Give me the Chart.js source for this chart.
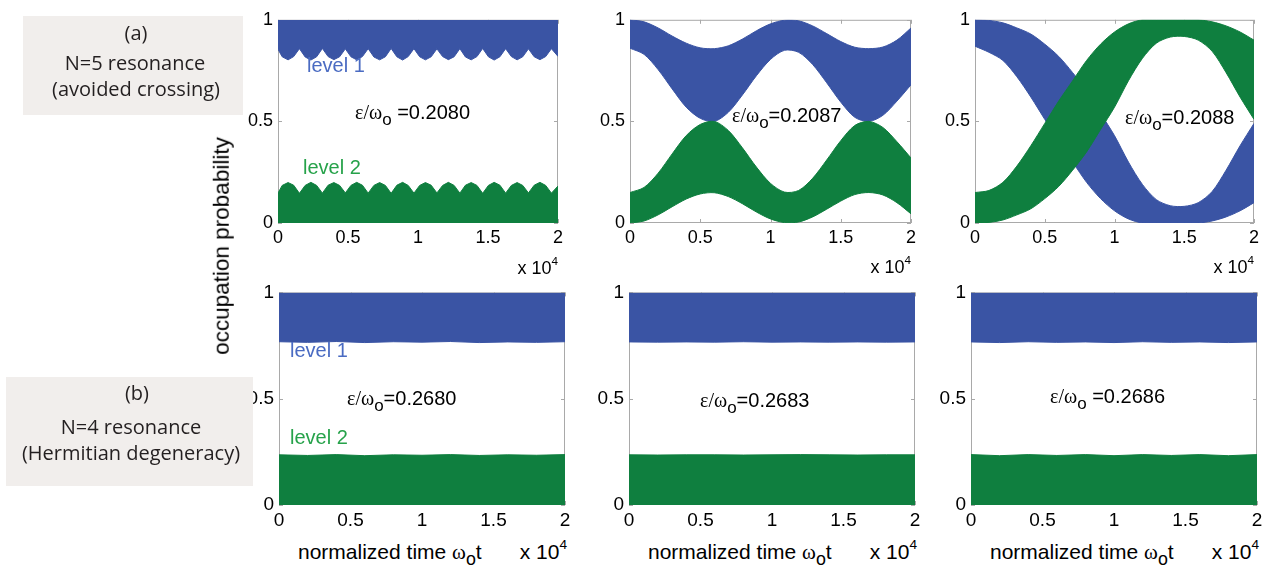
<!DOCTYPE html>
<html>
<head>
<meta charset="utf-8">
<script src="https://cdn.jsdelivr.net/npm/chart.js@4/dist/chart.umd.min.js"></script>
<style>
    body { margin: 0; width: 1270px; height: 568px; background: #fff; position: relative; overflow: hidden; font-family: 'Liberation Sans', Arial, sans-serif; color: #000; }
    canvas { position: absolute; z-index: 1; }
    .t { position: absolute; white-space: nowrap; line-height: 1; z-index: 3; }
    .gr { font-family: 'Liberation Serif', serif; }
    .sub { font-size: 0.85em; position: relative; top: 0.35em; }
    .sup { font-size: 0.65em; position: relative; top: -0.75em; }
    .box { position: absolute; background: #f1eeec; z-index: 2; }
    .bt { position: absolute; width: 300px; text-align: center; font-family: 'Open Sans', sans-serif; font-size: 20px; line-height: 1; color: #231f20; z-index: 3; white-space: nowrap; }
    .eq { font-size: 20px; }
    .lv1 { font-size: 20px; color: #4a6bc2; }
    .lv2 { font-size: 20px; color: #26a24a; }
    .xe { font-size: 18px; }
    .xl { font-size: 21px; }
</style>
</head>
<body>

<div class="box" style="left:23px; top:16px; width:220px; height:99px;"></div>
<div class="bt" style="left:-14px; top:23px;">(a)</div>
<div class="bt" style="left:-15px; top:53px;">N=5 resonance</div>
<div class="bt" style="left:-14px; top:79px;">(avoided crossing)</div>

<div class="box" style="left:6px; top:377px; width:247px; height:109px;"></div>
<div class="bt" style="left:-13px; top:383px;">(b)</div>
<div class="bt" style="left:-19px; top:417px;">N=4 resonance</div>
<div class="bt" style="left:-19px; top:443px;">(Hermitian degeneracy)</div>

<div class="t" style="left:222px; top:246px; font-size:22.5px; transform: translate(-50%, -50%) rotate(-90deg);">occupation probability</div>

<!-- top row annotations -->
<div class="t lv1" style="left:307px; top:55px;">level 1</div>
<div class="t lv2" style="left:303px; top:157px;">level 2</div>
<div class="t eq" style="left:355px; top:102px;"><span class="gr">ε/ω</span><span class="sub">o</span> =0.2080</div>
<div class="t eq" style="left:732px; top:105px;"><span class="gr">ε/ω</span><span class="sub">o</span>=0.2087</div>
<div class="t eq" style="left:1125px; top:107px;"><span class="gr">ε/ω</span><span class="sub">o</span>=0.2088</div>
<div class="t xe" style="right:712px; top:259px;">x 10<span class="sup">4</span></div>
<div class="t xe" style="right:359px; top:258px;">x 10<span class="sup">4</span></div>
<div class="t xe" style="right:16px; top:258px;">x 10<span class="sup">4</span></div>

<!-- bottom row annotations -->
<div class="t lv1" style="left:290px; top:340px;">level 1</div>
<div class="t lv2" style="left:290px; top:427px;">level 2</div>
<div class="t eq" style="left:347px; top:388px;"><span class="gr">ε/ω</span><span class="sub">o</span>=0.2680</div>
<div class="t eq" style="left:700px; top:390px;"><span class="gr">ε/ω</span><span class="sub">o</span>=0.2683</div>
<div class="t eq" style="left:1050px; top:386px;"><span class="gr">ε/ω</span><span class="sub">o</span> =0.2686</div>
<div class="t xl" style="left:298px; top:541px;">normalized time <span class="gr">ω</span><span class="sub">o</span>t</div>
<div class="t xl" style="right:703px; top:541px;">x 10<span class="sup">4</span></div>
<div class="t xl" style="left:648px; top:541px;">normalized time <span class="gr">ω</span><span class="sub">o</span>t</div>
<div class="t xl" style="right:353px; top:541px;">x 10<span class="sup">4</span></div>
<div class="t xl" style="left:990px; top:541px;">normalized time <span class="gr">ω</span><span class="sub">o</span>t</div>
<div class="t xl" style="right:11px; top:541px;">x 10<span class="sup">4</span></div>

<script>
// tick values / labels (time in units of 1e4)
const xTickValues = [0, 5000, 10000, 15000, 20000];
const xTickLabels = ['0', '0.5', '1', '1.5', '2'];
const yTickValues = [0, 0.5, 1];
const yTickLabels = ['0', '0.5', '1'];

// (a) eps = 0.2080 : scalloped envelopes
const tA = [0, 300, 720, 1120, 1530, 1940, 2350, 2760, 3170, 3580, 3990, 4400, 4810, 5210, 5620, 6030,
    6440, 6850, 7260, 7670, 8080, 8490, 8900, 9300, 9710, 10120, 10530, 10940, 11350, 11760, 12170, 12580,
    12990, 13390, 13800, 14210, 14620, 15030, 15440, 15850, 16260, 16670, 17080, 17480, 17890, 18300, 18710,
    19120, 19530, 20000];
const blueLowA = [0.855, 0.818, 0.803, 0.819, 0.858, 0.817, 0.802, 0.818, 0.859, 0.819, 0.804, 0.818, 0.857,
    0.818, 0.803, 0.819, 0.858, 0.817, 0.803, 0.818, 0.859, 0.818, 0.802, 0.819, 0.858, 0.818, 0.803, 0.818,
    0.857, 0.819, 0.804, 0.818, 0.858, 0.817, 0.803, 0.819, 0.859, 0.818, 0.802, 0.818, 0.858, 0.819, 0.803,
    0.818, 0.857, 0.818, 0.804, 0.819, 0.858, 0.82];
const greenHighA = [0.147, 0.185, 0.199, 0.186, 0.146, 0.185, 0.2, 0.185, 0.147, 0.186, 0.199, 0.185, 0.148,
    0.185, 0.2, 0.186, 0.147, 0.185, 0.199, 0.185, 0.146, 0.186, 0.2, 0.185, 0.147, 0.185, 0.199, 0.186,
    0.148, 0.185, 0.2, 0.185, 0.147, 0.186, 0.199, 0.185, 0.146, 0.185, 0.2, 0.186, 0.147, 0.185, 0.199,
    0.185, 0.148, 0.186, 0.2, 0.185, 0.147, 0.182];

// (a) eps = 0.2087
const tB = [0, 1000, 2000, 3000, 4000, 5000, 6000, 7000, 8000, 9000, 10000, 11000, 12000, 13000, 14000,
    15000, 16000, 17000, 18000, 19000, 20000];
const blueHighB = [1, 0.99, 0.96, 0.92, 0.885, 0.862, 0.858, 0.872, 0.905, 0.946, 0.98, 0.998, 0.995, 0.97,
    0.932, 0.893, 0.865, 0.858, 0.866, 0.9, 0.96];
const blueLowB = [0.86, 0.83, 0.755, 0.66, 0.57, 0.515, 0.5, 0.545, 0.63, 0.725, 0.805, 0.85, 0.84, 0.78,
    0.69, 0.595, 0.52, 0.5, 0.53, 0.6, 0.68];
const greenHighB = [0.15, 0.175, 0.245, 0.34, 0.43, 0.485, 0.5, 0.455, 0.37, 0.275, 0.195, 0.152, 0.16, 0.22,
    0.31, 0.405, 0.48, 0.5, 0.47, 0.4, 0.32];
const greenLowB = [0, 0.01, 0.04, 0.08, 0.118, 0.143, 0.149, 0.13, 0.095, 0.054, 0.02, 0.002, 0.005, 0.03,
    0.068, 0.108, 0.14, 0.15, 0.138, 0.1, 0.045];

// (a) eps = 0.2088
const tC = tB;
const blueHighC = [1, 0.997, 0.985, 0.96, 0.93, 0.88, 0.82, 0.74, 0.65, 0.54, 0.43, 0.3, 0.19, 0.115, 0.085,
    0.082, 0.1, 0.155, 0.26, 0.38, 0.49];
const blueLowC = [0.87, 0.84, 0.8, 0.72, 0.62, 0.51, 0.4, 0.3, 0.2, 0.12, 0.06, 0.02, 0, 0, 0, 0, 0, 0.01,
    0.03, 0.06, 0.1];
const greenHighC = [0.15, 0.16, 0.2, 0.28, 0.38, 0.49, 0.6, 0.7, 0.8, 0.88, 0.94, 0.98, 1, 1, 1, 1, 1, 0.99,
    0.97, 0.94, 0.9];
const greenLowC = [0, 0.003, 0.015, 0.04, 0.07, 0.12, 0.18, 0.26, 0.35, 0.46, 0.57, 0.7, 0.81, 0.885, 0.915,
    0.918, 0.9, 0.845, 0.74, 0.62, 0.51];

// (b) eps = 0.2680 / 0.2683 / 0.2686 : flat bands
const tD = [0, 2000, 4000, 6000, 8000, 10000, 12000, 14000, 16000, 18000, 20000];
const blueLowD = [0.768, 0.765, 0.769, 0.764, 0.768, 0.766, 0.769, 0.764, 0.767, 0.765, 0.768];
const greenHighD = [0.236, 0.233, 0.237, 0.232, 0.236, 0.234, 0.237, 0.233, 0.236, 0.234, 0.237];
const blueLowE = [0.767, 0.766, 0.767, 0.766, 0.768, 0.766, 0.767, 0.766, 0.767, 0.766, 0.767];
const greenHighE = [0.236, 0.235, 0.236, 0.236, 0.235, 0.236, 0.237, 0.236, 0.235, 0.236, 0.236];
const blueLowF = [0.767, 0.764, 0.768, 0.765, 0.767, 0.764, 0.768, 0.765, 0.767, 0.764, 0.767];
const greenHighF = [0.237, 0.232, 0.237, 0.233, 0.237, 0.232, 0.237, 0.233, 0.237, 0.232, 0.237];

const BLUE = '#3a54a4';
const GREEN = '#0f7f3f';

const pts = (t, v) => t.map((x, i) => ({ x, y: v[i] }));

const line = (color, t, v, fill, tension) => ({
    data: pts(t, v),
    borderColor: color,
    backgroundColor: color,
    borderWidth: 1,
    pointRadius: 0,
    tension: tension || 0,
    fill: fill
});

// band between two envelopes, upper first so the lower one fills to it
const band = (color, t, hi, lo, tension) => [
    line(color, t, hi, false, tension),
    line(color, t, lo, '-1', tension)
];

// matlab-like box with inward ticks
const boxPlugin = {
    id: 'mbox',
    beforeDatasetsDraw(chart) {
        const { ctx, chartArea: a, scales } = chart;
        ctx.save();
        ctx.strokeStyle = '#a9a9a9';
        ctx.lineWidth = 1;
        ctx.strokeRect(a.left + 0.5, a.top + 0.5, a.width - 1, a.height - 1);
        ctx.beginPath();
        scales.x.ticks.forEach((tk, i) => {
            const px = Math.round(scales.x.getPixelForTick(i)) + 0.5;
            ctx.moveTo(px, a.top); ctx.lineTo(px, a.top + 4);
            ctx.moveTo(px, a.bottom); ctx.lineTo(px, a.bottom - 4);
        });
        scales.y.ticks.forEach((tk, i) => {
            const py = Math.round(scales.y.getPixelForTick(i)) + 0.5;
            ctx.moveTo(a.left, py); ctx.lineTo(a.left + 4, py);
            ctx.moveTo(a.right, py); ctx.lineTo(a.right - 4, py);
        });
        ctx.stroke();
        ctx.restore();
    }
};

const PL = 52, PR = 10, PT = 8, PB = 30;

function makePanel(rect, fontSize, datasets) {
    const [x0, y0, x1, y1] = rect;
    const cv = document.createElement('canvas');
    cv.width = x1 - x0 + PL + PR;
    cv.height = y1 - y0 + PT + PB;
    cv.style.left = (x0 - PL) + 'px';
    cv.style.top = (y0 - PT) + 'px';
    document.body.appendChild(cv);

    const font = { family: "'Liberation Sans', Arial, sans-serif", size: fontSize };
    return new Chart(cv, {
        type: 'line',
        data: { datasets },
        options: {
            responsive: false,
            animation: false,
            devicePixelRatio: 1,
            layout: { padding: { top: PT, right: PR, left: 0, bottom: 0 } },
            plugins: { legend: { display: false }, tooltip: { enabled: false } },
            scales: {
                x: {
                    type: 'linear', min: 0, max: 20000,
                    afterBuildTicks: s => { s.ticks = xTickValues.map(value => ({ value })); },
                    afterFit: s => { s.height = PB; },
                    grid: { display: false, drawTicks: false },
                    border: { display: false },
                    ticks: { color: '#000', font, padding: 4, maxRotation: 0, autoSkip: false,
                        callback: (v, i) => xTickLabels[i] }
                },
                y: {
                    type: 'linear', min: 0, max: 1,
                    afterBuildTicks: s => { s.ticks = yTickValues.map(value => ({ value })); },
                    afterFit: s => { s.width = PL; },
                    grid: { display: false, drawTicks: false },
                    border: { display: false },
                    ticks: { color: '#000', font, padding: 5, autoSkip: false,
                        callback: (v, i) => yTickLabels[i] }
                }
            }
        },
        plugins: [boxPlugin]
    });
}

// top row
makePanel([278, 12, 558, 223], 18, [
    line(GREEN, tA, greenHighA, 'start'),
    line(BLUE, tA, blueLowA, 'end')
]);
makePanel([630, 12, 911, 223], 18, [
    ...band(GREEN, tB, greenHighB, greenLowB, 0.3),
    ...band(BLUE, tB, blueHighB, blueLowB, 0.3)
]);
makePanel([975, 12, 1254, 223], 18, [
    ...band(GREEN, tC, greenHighC, greenLowC, 0.3),
    ...band(BLUE, tC, blueHighC, blueLowC, 0.3)
]);

// bottom row
makePanel([279, 284, 565, 505], 19, [
    line(GREEN, tD, greenHighD, 'start'),
    line(BLUE, tD, blueLowD, 'end')
]);
makePanel([629, 284, 915, 505], 19, [
    line(GREEN, tD, greenHighE, 'start'),
    line(BLUE, tD, blueLowE, 'end')
]);
makePanel([971, 284, 1257, 505], 19, [
    line(GREEN, tD, greenHighF, 'start'),
    line(BLUE, tD, blueLowF, 'end')
]);
</script>
</body>
</html>
